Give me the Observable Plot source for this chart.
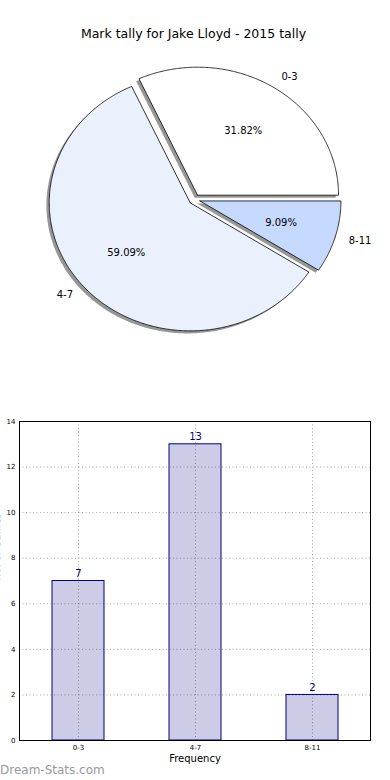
<!DOCTYPE html>
<html>
<head>
<meta charset="utf-8">
<script src="https://cdn.jsdelivr.net/npm/d3@7"></script>
<script src="https://cdn.jsdelivr.net/npm/@observablehq/plot@0.6"></script>
<style>
  html, body { margin: 0; padding: 0; background: #fff; }
  #wrap { position: relative; width: 390px; height: 780px; overflow: hidden; font-family: "DejaVu Sans", sans-serif; }
  #wrap svg { display: block; overflow: visible; }
  #logo { position: absolute; left: 0px; top: 763px; font-size: 12px; color: #9a9a9a; font-family: "DejaVu Sans", sans-serif; }
</style>
</head>
<body>
<div id="wrap"></div>
<script>
// ---- data ----
const title = "Mark tally for Jake Lloyd - 2015 tally";
const categories = ["0-3", "4-7", "8-11"];
const counts = [7, 13, 2];
const pieColors = ["#ffffff", "#eaf1fd", "#c6d9fe"];
const explode = [0.04, 0.04, 0.04];
const yTicks = [0, 2, 4, 6, 8, 10, 12, 14];
const xLabel = "Frequency";
const yLabel = "No. of Games";
const logo = "Dream-Stats.com";

const FONT = "DejaVu Sans";
const wrap = document.getElementById("wrap");

// ---- pie geometry (unit radius; scales turn it into pixels) ----
const total = d3.sum(counts);
let acc = 0;
const slices = categories.map((c, i) => {
  const a0 = acc / total * 2 * Math.PI;
  acc += counts[i];
  const a1 = acc / total * 2 * Math.PI;
  const m = (a0 + a1) / 2;
  const ox = explode[i] * Math.cos(m), oy = explode[i] * Math.sin(m);
  return {cat: c, i, a0, a1, m, ox, oy, color: pieColors[i], pct: (counts[i] / total * 100).toFixed(2) + "%"};
});
const wedgePts = [];
const shadowPts = [];
for (const s of slices) {
  const pts = [{x: s.ox, y: s.oy}];
  const n = Math.max(8, Math.ceil((s.a1 - s.a0) / (Math.PI / 360)));
  for (let k = 0; k <= n; k++) {
    const t = s.a0 + (s.a1 - s.a0) * k / n;
    pts.push({x: s.ox + Math.cos(t), y: s.oy + Math.sin(t)});
  }
  pts.push({x: s.ox, y: s.oy});
  for (const p of pts) {
    wedgePts.push({k: s.cat, x: p.x, y: p.y, color: s.color});
    shadowPts.push({k: s.cat, x: p.x - 0.02, y: p.y - 0.02});
  }
}
const labelPts = slices.map(s => ({
  text: s.cat,
  x: s.ox + 1.1 * Math.cos(s.m),
  y: s.oy + 1.1 * Math.sin(s.m),
  anchor: Math.cos(s.m) > 0 ? "start" : "end"
}));
const pctPts = slices.map(s => ({
  text: s.pct,
  x: s.ox + 0.6 * Math.cos(s.m),
  y: s.oy + 0.6 * Math.sin(s.m)
}));

const pie = Plot.plot({
  width: 390, height: 400,
  marginTop: 0, marginBottom: 0, marginLeft: 0, marginRight: 0,
  style: {fontFamily: FONT, background: "white", overflow: "visible"},
  x: {domain: [-194 / 141, 196 / 141], axis: null},
  y: {domain: [(199 - 400) / 128, 199 / 128], axis: null},
  color: {type: "identity"},
  marks: [
    Plot.line(shadowPts, {x: "x", y: "y", z: "k", fill: "#404142", fillOpacity: 0.55, stroke: "none", curve: "linear"}),
    Plot.line(wedgePts, {x: "x", y: "y", z: "k", fill: "color", stroke: "black", strokeWidth: 0.8, curve: "linear"}),
    Plot.text(labelPts.filter(d => d.anchor === "start"), {x: "x", y: "y", text: "text", textAnchor: "start", fontSize: 10, fill: "black"}),
    Plot.text(labelPts.filter(d => d.anchor === "end"), {x: "x", y: "y", text: "text", textAnchor: "end", fontSize: 10, fill: "black"}),
    Plot.text(pctPts, {x: "x", y: "y", text: "text", fontSize: 10, fill: "black"}),
    Plot.text([title], {frameAnchor: "top", text: d => d, dy: 29, dx: -2, fontSize: 12.5, fill: "black"})
  ]
});
wrap.appendChild(pie);

// ---- bar chart ----
const barData = categories.map((c, i) => ({cat: c, count: counts[i]}));
const bars = Plot.plot({
  width: 390, height: 380,
  marginTop: 21, marginBottom: 40, marginLeft: 19, marginRight: 20,
  style: {fontFamily: FONT, background: "white", overflow: "visible"},
  x: {domain: categories, paddingInner: 0.556, paddingOuter: 0.278, label: null},
  y: {domain: [0, 14], label: null},
  marks: [
    Plot.barY(barData, {x: "cat", y: "count", fill: "#ccccE6", stroke: "#000080", strokeWidth: 1}),
    Plot.gridY(yTicks, {stroke: "#000", strokeOpacity: 0.35, strokeDasharray: "1,2.5"}),
    Plot.gridX({stroke: "#000", strokeOpacity: 0.35, strokeDasharray: "1,2.5"}),
    Plot.axisY(yTicks, {tickSize: 0, tickPadding: 4, fontSize: 7, label: null, fill: "black"}),
    Plot.axisX({tickSize: 0, tickPadding: 5, fontSize: 7, label: null, fill: "black"}),
    Plot.frame({stroke: "black", strokeWidth: 1}),
    Plot.text(barData, {x: "cat", y: "count", text: d => String(d.count), dy: -7, fill: "#000080", fontSize: 10}),
    Plot.text([xLabel], {frameAnchor: "bottom", text: d => d, dy: 21, fontSize: 10, fill: "black"}),
    Plot.text([yLabel], {frameAnchor: "left", text: d => d, dx: -22.5, rotate: -90, fontSize: 10, fill: "black"})
  ]
});
wrap.appendChild(bars);

const lg = document.createElement("div");
lg.id = "logo";
lg.textContent = logo;
wrap.appendChild(lg);
</script>
</body>
</html>
